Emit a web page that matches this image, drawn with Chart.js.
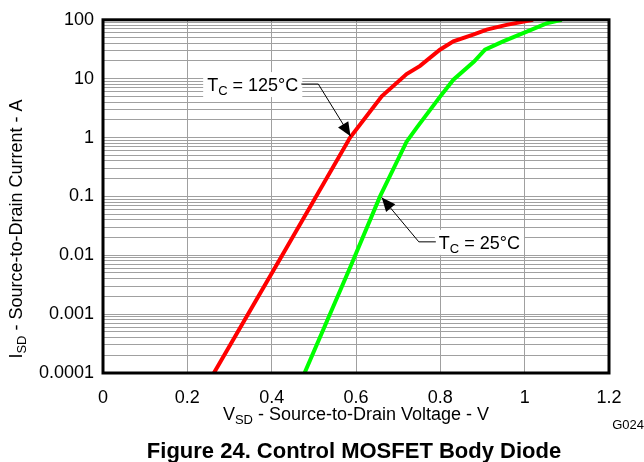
<!DOCTYPE html>
<html>
<head>
<meta charset="utf-8">
<script src="https://cdn.jsdelivr.net/npm/chart.js@4/dist/chart.umd.min.js"></script>
<style>
  html, body { margin: 0; padding: 0; background: #fff; }
</style>
</head>
<body>
<canvas id="chart" width="644" height="462"></canvas>
<script>
// T_C = 125°C curve (V_SD in volts, I_SD in amps)
const voltsHot = [0.263, 0.425, 0.586, 0.661, 0.720, 0.752, 0.799, 0.831, 0.878, 0.910, 0.957, 1.020];
const ampsHot = [0.0001, 0.01, 1, 5, 12, 16.5, 31, 43, 56, 68, 82, 100];
// T_C = 25°C curve
const voltsCold = [0.478, 0.586, 0.657, 0.720, 0.745, 0.799, 0.831, 0.880, 0.906, 0.949, 1.005, 1.052, 1.088];
const ampsCold = [0.0001, 0.0062, 0.1, 0.85, 1.5, 4.9, 9.6, 19.5, 31, 43, 63, 87, 100];

const xTicks = [0, 0.2, 0.4, 0.6, 0.8, 1, 1.2];
const xTickLabels = ["0", "0.2", "0.4", "0.6", "0.8", "1", "1.2"];
const yDecades = [0.0001, 0.001, 0.01, 0.1, 1, 10, 100];
const yDecadeLabels = ["0.0001", "0.001", "0.01", "0.1", "1", "10", "100"];

const FONT = "'Liberation Sans', Arial, sans-serif";

// minor grid: 1..9 x each decade
const yGrid = [];
yDecades.forEach((d, i) => {
  if (i === yDecades.length - 1) { yGrid.push(d); return; }
  for (let m = 1; m <= 9; m++) yGrid.push(+(d * m).toPrecision(3));
});

function toPoints(xs, ys) {
  return xs.map((x, i) => ({ x, y: ys[i] }));
}

// text with a subscript part: parts = [[text, isSub], ...]
function drawParts(ctx, parts, x, y, size, align) {
  const subSize = Math.round(size * 0.72);
  let width = 0;
  parts.forEach(([t, sub]) => {
    ctx.font = `${sub ? subSize : size}px ${FONT}`;
    width += ctx.measureText(t).width;
  });
  let cx = align === "center" ? x - width / 2 : align === "right" ? x - width : x;
  ctx.textAlign = "left";
  ctx.textBaseline = "alphabetic";
  parts.forEach(([t, sub]) => {
    ctx.font = `${sub ? subSize : size}px ${FONT}`;
    ctx.fillText(t, cx, sub ? y + size * 0.22 : y);
    cx += ctx.measureText(t).width;
  });
  return { left: cx - width, right: cx, width };
}

function arrowHead(ctx, fromX, fromY, tipX, tipY) {
  const ang = Math.atan2(tipY - fromY, tipX - fromX);
  const len = 14, half = 6;
  const bx = tipX - len * Math.cos(ang), by = tipY - len * Math.sin(ang);
  ctx.beginPath();
  ctx.moveTo(tipX, tipY);
  ctx.lineTo(bx + half * Math.sin(ang), by - half * Math.cos(ang));
  ctx.lineTo(bx - half * Math.sin(ang), by + half * Math.cos(ang));
  ctx.closePath();
  ctx.fill();
}

// callout: arrow tip and elbow in data coordinates, text to the left or right of the elbow
const callouts = [
  { tip: [0.587, 1.05], elbow: [0.5106, 8.1], side: "left", parts: [["T", 0], ["C", 1], [" = 125°C", 0]] },
  { tip: [0.661, 0.096], elbow: [0.749, 0.0169], side: "right", parts: [["T", 0], ["C", 1], [" = 25°C", 0]] },
];

const decorations = {
  id: "decorations",
  afterDatasetsDraw(chart) {
    const { ctx, chartArea: a, scales } = chart;
    ctx.save();
    // frame
    ctx.strokeStyle = "#000";
    ctx.lineWidth = 3;
    ctx.strokeRect(a.left, a.top, a.right - a.left, a.bottom - a.top);

    // callouts
    ctx.fillStyle = "#000";
    ctx.strokeStyle = "#000";
    ctx.lineWidth = 1;
    callouts.forEach((c) => {
      const tx = scales.x.getPixelForValue(c.tip[0]);
      const ty = scales.y.getPixelForValue(c.tip[1]);
      const ex = scales.x.getPixelForValue(c.elbow[0]);
      const ey = scales.y.getPixelForValue(c.elbow[1]);
      const dir = c.side === "left" ? -1 : 1;
      const hx = ex + dir * 17;
      const textX = hx + dir * 3;
      const baseY = ey + 7;
      // measure text for the white box
      ctx.save();
      ctx.globalAlpha = 0;
      const m = drawParts(ctx, c.parts, textX, baseY, 18, c.side === "left" ? "right" : "left");
      ctx.restore();
      ctx.fillStyle = "#fff";
      ctx.fillRect(m.left - 4, ey - 12, m.width + 8, 25);
      ctx.fillStyle = "#000";
      drawParts(ctx, c.parts, textX, baseY, 18, c.side === "left" ? "right" : "left");
      ctx.beginPath();
      ctx.moveTo(hx, ey);
      ctx.lineTo(ex, ey);
      ctx.lineTo(tx, ty);
      ctx.stroke();
      arrowHead(ctx, ex, ey, tx, ty);
    });

    // axis titles
    ctx.fillStyle = "#000";
    drawParts(ctx, [["V", 0], ["SD", 1], [" - Source-to-Drain Voltage - V", 0]], (a.left + a.right) / 2, 420, 18, "center");
    ctx.save();
    ctx.translate(22, 229);
    ctx.rotate(-Math.PI / 2);
    drawParts(ctx, [["I", 0], ["SD", 1], [" - Source-to-Drain Current - A", 0]], 0, 0, 18, "center");
    ctx.restore();

    // figure id and caption
    ctx.font = `13px ${FONT}`;
    ctx.textAlign = "right";
    ctx.fillText("G024", 644, 429);
    ctx.font = `bold 22px ${FONT}`;
    ctx.textAlign = "center";
    ctx.fillText("Figure 24. Control MOSFET Body Diode", 354, 458);
    ctx.restore();
  },
};

new Chart(document.getElementById("chart"), {
  type: "line",
  data: {
    datasets: [
      {
        label: "TC = 125°C",
        data: toPoints(voltsHot, ampsHot),
        borderColor: "#ff0000",
        borderWidth: 4,
        pointRadius: 0,
        tension: 0,
      },
      {
        label: "TC = 25°C",
        data: toPoints(voltsCold, ampsCold),
        borderColor: "#00ff00",
        borderWidth: 4,
        pointRadius: 0,
        tension: 0,
      },
    ],
  },
  options: {
    responsive: false,
    animation: false,
    layout: { padding: { top: 15, right: 35, left: 0, bottom: 0 } },
    plugins: { legend: { display: false }, tooltip: { enabled: false } },
    scales: {
      x: {
        type: "linear",
        min: 0,
        max: 1.2,
        afterBuildTicks: (s) => { s.ticks = xTicks.map((v) => ({ value: v })); },
        afterFit: (s) => { s.height = 89; },
        grid: { color: "#a0a0a0", lineWidth: 1, drawTicks: false },
        border: { display: false },
        ticks: {
          padding: 14,
          color: "#000",
          font: { family: FONT, size: 18 },
          maxRotation: 0,
          callback: (v) => xTickLabels[xTicks.indexOf(v)] ?? "",
        },
      },
      y: {
        type: "logarithmic",
        min: 0.0001,
        max: 100,
        afterBuildTicks: (s) => { s.ticks = yGrid.map((v) => ({ value: v })); },
        afterFit: (s) => { s.width = 103; },
        grid: { color: "#a0a0a0", lineWidth: 1, drawTicks: false },
        border: { display: false },
        ticks: {
          padding: 9,
          color: "#000",
          font: { family: FONT, size: 18 },
          autoSkip: false,
          callback: (v) => {
            const i = yDecades.findIndex((d) => Math.abs(d - v) / d < 1e-6);
            return i >= 0 ? yDecadeLabels[i] : "";
          },
        },
      },
    },
  },
  plugins: [decorations],
});
</script>
</body>
</html>
